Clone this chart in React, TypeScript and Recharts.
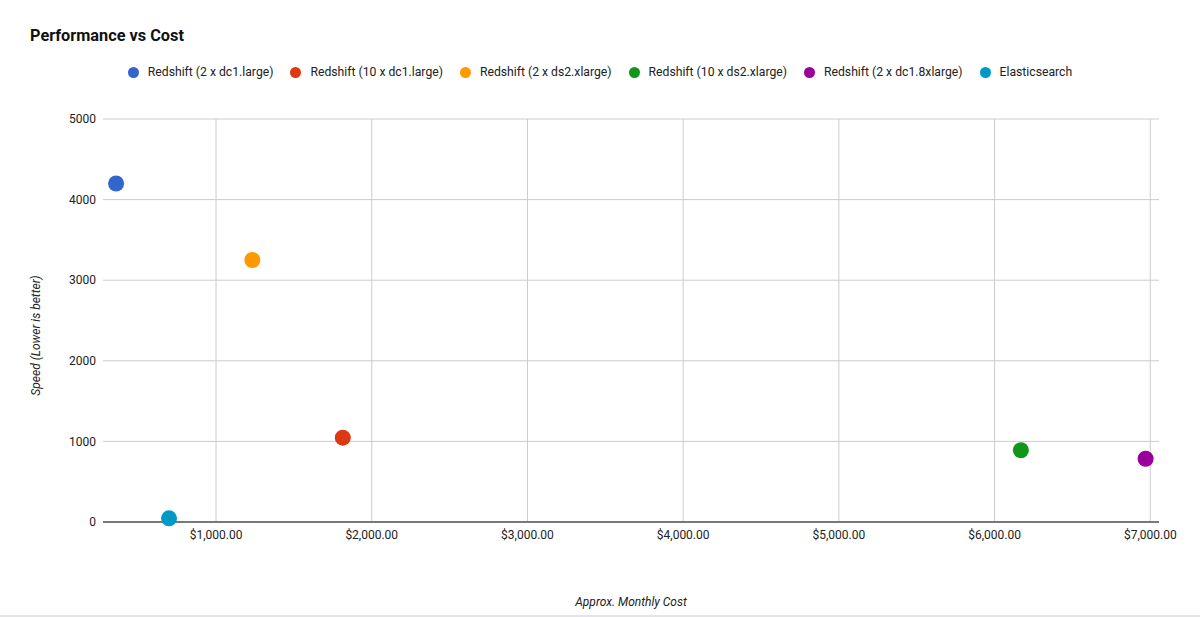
import { CartesianGrid, Legend, Scatter, ScatterChart, XAxis, YAxis } from "recharts"

const seriesNames = [
  "Redshift (2 x dc1.large)",
  "Redshift (10 x dc1.large)",
  "Redshift (2 x ds2.xlarge)",
  "Redshift (10 x ds2.xlarge)",
  "Redshift (2 x dc1.8xlarge)",
  "Elasticsearch",
]
const monthlyCost = [358, 1814, 1233, 6169, 6970, 698]
const speed = [4200, 1046, 3251, 890, 785, 46]

const xTicks = [1000, 2000, 3000, 4000, 5000, 6000, 7000]
const yTicks = [0, 1000, 2000, 3000, 4000, 5000]

const palette = ["#3366cc", "#dc3912", "#ff9900", "#109618", "#990099", "#0099c6"]

const font = "Roboto, Arial, sans-serif"

const money = (v: number) =>
  "$" + v.toLocaleString("en-US", { minimumFractionDigits: 2, maximumFractionDigits: 2 })

function LegendContent({ payload }: any) {
  // keep the series order, not the alphabetical one
  const items = [...(payload || [])].sort(
    (a: any, b: any) => seriesNames.indexOf(a.value) - seriesNames.indexOf(b.value)
  )
  return (
    <div
      style={{
        display: "flex",
        justifyContent: "center",
        fontFamily: font,
        fontSize: 12.2,
        color: "#222",
        lineHeight: "18px",
      }}
    >
      {items.map((p: any, i: number) => (
        <div
          key={p.value}
          style={{ display: "flex", alignItems: "center", marginRight: i < items.length - 1 ? 17 : 0 }}
        >
          <span
            style={{
              display: "inline-block",
              width: 11,
              height: 11,
              borderRadius: "50%",
              background: p.color,
              marginRight: 9,
            }}
          />
          <span>{p.value}</span>
        </div>
      ))}
    </div>
  )
}

function XTitle({ viewBox }: any) {
  return (
    <text
      x={viewBox.x + viewBox.width / 2}
      y={viewBox.y + viewBox.height + 54}
      textAnchor="middle"
      fontFamily={font}
      fontSize={12}
      fontStyle="italic"
      fill="#222"
    >
      Approx. Monthly Cost
    </text>
  )
}

function YTitle({ viewBox }: any) {
  return (
    <text
      transform="rotate(-90)"
      x={-(viewBox.y + viewBox.height / 2 + 15)}
      y={viewBox.x - 3}
      textAnchor="middle"
      fontFamily={font}
      fontSize={12}
      fontStyle="italic"
      fill="#222"
    >
      Speed (Lower is better)
    </text>
  )
}

const dot = (props: any) => <circle cx={props.cx} cy={props.cy} r={8} fill={props.fill} />

export default function App() {
  return (
    <div style={{ position: "relative", width: 1200, height: 617, background: "#fff", fontFamily: font }}>
      <style>{"body{margin:0}"}</style>
      <div
        style={{
          position: "absolute",
          left: 30,
          top: 28,
          fontSize: 16.3,
          lineHeight: 1,
          fontWeight: 700,
          color: "#111",
        }}
      >
        Performance vs Cost
      </div>
      <ScatterChart width={1200} height={617} margin={{ top: 119, right: 41, left: 43, bottom: 65 }}>
        <CartesianGrid stroke="#cccccc" syncWithTicks />
        <XAxis
          type="number"
          dataKey="cost"
          domain={[274, 7056]}
          ticks={xTicks}
          tickFormatter={money}
          height={30}
          tickLine={false}
          tickSize={0}
          tickMargin={8}
          axisLine={{ stroke: "#555", strokeWidth: 1.5 }}
          tick={{ fill: "#222", fontSize: 12, fontFamily: font }}
          label={XTitle}
        />
        <YAxis
          type="number"
          dataKey="speed"
          domain={[0, 5000]}
          ticks={yTicks}
          width={60}
          tickLine={false}
          tickSize={0}
          tickMargin={7}
          axisLine={false}
          tick={{ fill: "#222", fontSize: 12, fontFamily: font }}
          label={YTitle}
        />
        <Legend
          layout="horizontal"
          verticalAlign="middle"
          wrapperStyle={{ top: 63, left: 0, width: 1200 }}
          content={LegendContent}
        />
        {seriesNames.map((name, i) => (
          <Scatter
            key={name}
            name={name}
            data={[{ cost: monthlyCost[i], speed: speed[i] }]}
            fill={palette[i]}
            shape={dot}
            isAnimationActive={false}
          />
        ))}
      </ScatterChart>
      <div style={{ position: "absolute", left: 0, top: 615, width: 1200, height: 2, background: "#e4e4e4" }} />
    </div>
  )
}
